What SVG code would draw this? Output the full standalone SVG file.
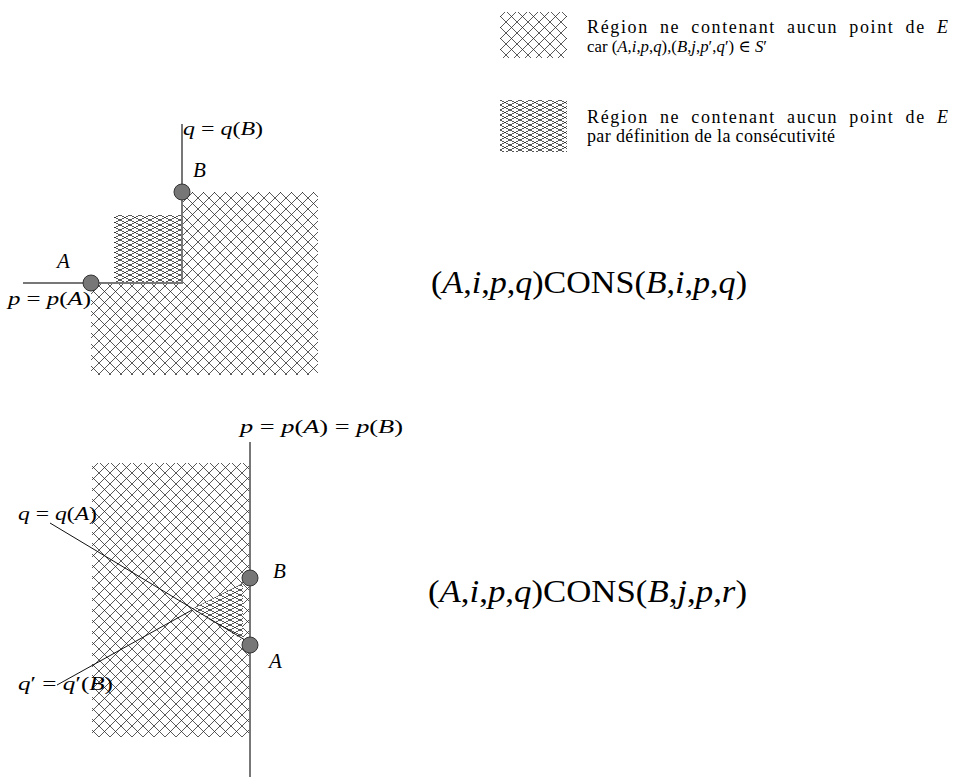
<svg xmlns="http://www.w3.org/2000/svg" width="956" height="778" viewBox="0 0 956 778">
<style>
.ax{stroke:#777;stroke-width:2;fill:none}
.ln{stroke:#111;stroke-width:1;fill:none}
.pt{fill:#777;stroke:#333;stroke-width:1}
.m{font-family:"Liberation Serif","DejaVu Serif",serif;font-style:italic;fill:#000}
.r{font-family:"Liberation Serif","DejaVu Serif",serif;fill:#000}
.up{font-style:normal}
.it{font-style:italic}
.hatch{stroke:#222;stroke-width:0.75;fill:none;shape-rendering:crispEdges}
</style>
<defs>
<pattern id="coarse" patternUnits="userSpaceOnUse" width="11" height="11">
<path class="hatch" d="M-1,-1 L12,12 M12,-1 L-1,12"/>
</pattern>
<pattern id="dense" patternUnits="userSpaceOnUse" width="10" height="5">
<path class="hatch" d="M-2,-1 L12,6 M12,-1 L-2,6"/>
</pattern>
</defs>
<rect width="956" height="778" fill="#fff"/>

<g id="legend">
<rect x="500" y="12" width="67" height="46" fill="url(#coarse)"/>
<rect x="500" y="100" width="67" height="52" fill="url(#dense)"/>
<text class="r" x="587" y="33" font-size="18" word-spacing="5" textLength="361" lengthAdjust="spacing">Région ne contenant aucun point de <tspan class="it">E</tspan></text>
<text class="r" x="587" y="52" font-size="17" textLength="180" lengthAdjust="spacingAndGlyphs">car (<tspan class="it">A</tspan>,<tspan class="it">i</tspan>,<tspan class="it">p</tspan>,<tspan class="it">q</tspan>),(<tspan class="it">B</tspan>,<tspan class="it">j</tspan>,<tspan class="it">p</tspan>′,<tspan class="it">q</tspan>′) ∈ <tspan class="it">S</tspan>′</text>
<text class="r" x="587" y="123" font-size="18" word-spacing="5" textLength="361" lengthAdjust="spacing">Région ne contenant aucun point de <tspan class="it">E</tspan></text>
<text class="r" x="587" y="142" font-size="18" textLength="248" lengthAdjust="spacing">par définition de la consécutivité</text>
</g>

<g id="fig1">
<path d="M91,283 L182,283 L182,192 L318,192 L318,375 L91,375 Z" fill="url(#coarse)"/>
<rect x="114" y="215" width="68" height="68" fill="url(#dense)"/>
</g>

<g id="fig2">
<rect x="92" y="463" width="158" height="274" fill="url(#coarse)"/>
<path d="M192,609 L243,583 L243,640 Z" fill="#fff"/>
<path d="M192,609 L243,583 L243,640 Z" fill="url(#dense)"/>
</g>

<g id="connectors">
<path class="ax" d="M23,283 L182,283 L182,124"/>
<path class="ln" d="M50,523 L245,640"/>
<path class="ln" d="M57,685 L192,610"/>
<path class="ax" d="M250,442 L250,777"/>
</g>

<g id="nodeA1"><circle class="pt" cx="91" cy="283" r="8"/></g>
<g id="nodeB1"><circle class="pt" cx="182" cy="192" r="8"/></g>
<g id="nodeB2"><circle class="pt" cx="250" cy="578" r="8"/></g>
<g id="nodeA2"><circle class="pt" cx="250" cy="645" r="8"/></g>

<g id="labels1">
<text class="m" x="183" y="135" font-size="19" textLength="80" lengthAdjust="spacingAndGlyphs">q <tspan class="up">=</tspan> q<tspan class="up">(</tspan>B<tspan class="up">)</tspan></text>
<text class="m" x="193" y="177" font-size="21">B</text>
<text class="m" x="57" y="268" font-size="21">A</text>
<text class="m" x="8" y="305" font-size="19" textLength="83" lengthAdjust="spacingAndGlyphs">p <tspan class="up">=</tspan> p<tspan class="up">(</tspan>A<tspan class="up">)</tspan></text>
</g>

<g id="formula1">
<text class="r" x="431" y="293" font-size="31" textLength="316" lengthAdjust="spacingAndGlyphs">(<tspan class="it">A</tspan>,<tspan class="it">i</tspan>,<tspan class="it">p</tspan>,<tspan class="it">q</tspan>)CONS(<tspan class="it">B</tspan>,<tspan class="it">i</tspan>,<tspan class="it">p</tspan>,<tspan class="it">q</tspan>)</text>
</g>

<g id="labels2">
<text class="m" x="240" y="433" font-size="19" textLength="163" lengthAdjust="spacingAndGlyphs">p <tspan class="up">=</tspan> p<tspan class="up">(</tspan>A<tspan class="up">) =</tspan> p<tspan class="up">(</tspan>B<tspan class="up">)</tspan></text>
<text class="m" x="18" y="520" font-size="19" textLength="79" lengthAdjust="spacingAndGlyphs">q <tspan class="up">=</tspan> q<tspan class="up">(</tspan>A<tspan class="up">)</tspan></text>
<text class="m" x="18" y="690" font-size="19" textLength="95" lengthAdjust="spacingAndGlyphs">q<tspan class="up">′ =</tspan> q<tspan class="up">′(</tspan>B<tspan class="up">)</tspan></text>
<text class="m" x="273" y="578" font-size="21">B</text>
<text class="m" x="269" y="668" font-size="21">A</text>
</g>

<g id="formula2">
<text class="r" x="428" y="602" font-size="31" textLength="319" lengthAdjust="spacingAndGlyphs">(<tspan class="it">A</tspan>,<tspan class="it">i</tspan>,<tspan class="it">p</tspan>,<tspan class="it">q</tspan>)CONS(<tspan class="it">B</tspan>,<tspan class="it">j</tspan>,<tspan class="it">p</tspan>,<tspan class="it">r</tspan>)</text>
</g>
</svg>
